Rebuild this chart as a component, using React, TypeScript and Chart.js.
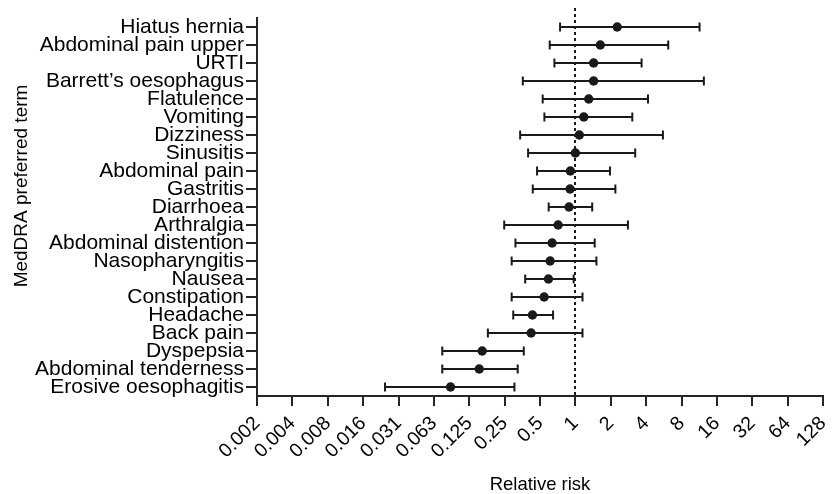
import React, { useEffect, useRef } from 'react';
import { Chart, registerables } from 'chart.js';

Chart.register(...registerables);

const terms = [
  'Hiatus hernia',
  'Abdominal pain upper',
  'URTI',
  'Barrett\u2019s oesophagus',
  'Flatulence',
  'Vomiting',
  'Dizziness',
  'Sinusitis',
  'Abdominal pain',
  'Gastritis',
  'Diarrhoea',
  'Arthralgia',
  'Abdominal distention',
  'Nasopharyngitis',
  'Nausea',
  'Constipation',
  'Headache',
  'Back pain',
  'Dyspepsia',
  'Abdominal tenderness',
  'Erosive oesophagitis',
];

const relativeRisk = [2.27, 1.63, 1.43, 1.43, 1.3, 1.18, 1.08, 1.0, 0.907, 0.901, 0.884, 0.713, 0.634, 0.61, 0.59, 0.542, 0.431, 0.42, 0.161, 0.152, 0.0866];
const lowerCI = [0.741, 0.605, 0.663, 0.357, 0.527, 0.545, 0.339, 0.396, 0.472, 0.434, 0.593, 0.248, 0.309, 0.287, 0.374, 0.287, 0.296, 0.18, 0.0737, 0.0737, 0.024];
const upperCI = [11.4, 6.17, 3.66, 12.4, 4.15, 3.05, 5.56, 3.23, 1.97, 2.19, 1.39, 2.8, 1.46, 1.51, 0.967, 1.15, 0.646, 1.15, 0.364, 0.323, 0.303];

const tickValues = [0.001953125, 0.00390625, 0.0078125, 0.015625, 0.03125, 0.0625, 0.125, 0.25, 0.5, 1, 2, 4, 8, 16, 32, 64, 128];
const tickLabels = ['0.002', '0.004', '0.008', '0.016', '0.031', '0.063', '0.125', '0.25', '0.5', '1', '2', '4', '8', '16', '32', '64', '128'];

const referenceValue = 1;
const xTitle = 'Relative risk';
const yTitle = 'MedDRA preferred term';

const FONT = "'Liberation Sans', Arial, Helvetica, sans-serif";
const INK = '#1a1a1a';
const AXIS = '#262626';

const refLinePlugin = {
  id: 'refLine',
  beforeDatasetsDraw(chart: any) {
    const { ctx, chartArea, scales } = chart;
    const x = Math.round(scales.x.getPixelForValue(referenceValue));
    ctx.save();
    ctx.strokeStyle = INK;
    ctx.lineWidth = 2;
    ctx.setLineDash([3, 3]);
    ctx.beginPath();
    ctx.moveTo(x, chartArea.top - 10);
    ctx.lineTo(x, chartArea.bottom);
    ctx.stroke();
    ctx.restore();
  },
};

const yTitlePlugin = {
  id: 'yTitleShifted',
  afterDraw(chart: any) {
    const { ctx } = chart;
    ctx.save();
    ctx.translate(27, 186);
    ctx.rotate(-Math.PI / 2);
    ctx.fillStyle = '#000';
    ctx.font = `19px ${FONT}`;
    ctx.textAlign = 'center';
    ctx.textBaseline = 'alphabetic';
    ctx.fillText(yTitle, 0, 0);
    ctx.restore();
  },
};

export default function App() {
  const canvasRef = useRef<HTMLCanvasElement | null>(null);

  useEffect(() => {
    if (!canvasRef.current) return;

    const pointData = terms.map((t, i) => ({ x: relativeRisk[i], y: t }));
    const errorSets = terms.map((t, i) => ({
      data: [
        { x: lowerCI[i], y: t },
        { x: upperCI[i], y: t },
      ],
      showLine: true,
      borderColor: INK,
      borderWidth: 2,
      pointStyle: 'line',
      rotation: 90,
      pointRadius: 4.5,
      pointBorderWidth: 2,
      pointBorderColor: INK,
      pointBackgroundColor: INK,
    }));

    const chart = new Chart(canvasRef.current, {
      type: 'scatter',
      data: {
        datasets: [
          {
            data: pointData,
            pointRadius: 4.7,
            pointBackgroundColor: INK,
            pointBorderColor: INK,
            pointBorderWidth: 0,
          } as any,
          ...(errorSets as any[]),
        ],
      },
      options: {
        responsive: false,
        animation: false,
        layout: { padding: { top: 18, right: 13, left: 0, bottom: 0 } },
        plugins: {
          legend: { display: false },
          tooltip: { enabled: false },
        },
        scales: {
          x: {
            type: 'logarithmic',
            min: tickValues[0],
            max: tickValues[tickValues.length - 1],
            afterBuildTicks: (s: any) => {
              s.ticks = tickValues.map((v) => ({ value: v }));
            },
            afterFit: (s: any) => {
              s.height = 98;
              s.paddingLeft = 0;
              s.paddingRight = 0;
            },
            grid: {
              display: true,
              drawOnChartArea: false,
              drawTicks: true,
              tickLength: 10,
              color: AXIS,
              lineWidth: 2,
            },
            border: { display: true, color: AXIS, width: 2 },
            ticks: {
              autoSkip: false,
              minRotation: 45,
              maxRotation: 45,
              padding: 6,
              color: '#000',
              font: { family: FONT, size: 19.5 },
              callback: (_v: any, i: number) => tickLabels[i],
            },
            title: {
              display: true,
              text: xTitle,
              color: '#000',
              font: { family: FONT, size: 18.5, lineHeight: 1 },
              padding: { top: 0, bottom: 0 },
            },
          },
          y: {
            type: 'category',
            labels: terms,
            offset: true,
            afterFit: (s: any) => {
              s.width = 257;
            },
            grid: {
              display: true,
              drawOnChartArea: false,
              drawTicks: true,
              tickLength: 11,
              color: AXIS,
              lineWidth: 2,
            },
            border: { display: true, color: AXIS, width: 2 },
            ticks: {
              autoSkip: false,
              padding: 2,
              color: '#000',
              font: { family: FONT, size: 21 },
            },
          },
        },
      } as any,
      plugins: [refLinePlugin, yTitlePlugin],
    });

    return () => chart.destroy();
  }, []);

  return (
    <div style={{ position: 'absolute', left: 0, top: 0, width: 836, height: 494, background: '#fff' }}>
      <canvas ref={canvasRef} width={836} height={494} />
    </div>
  );
}
